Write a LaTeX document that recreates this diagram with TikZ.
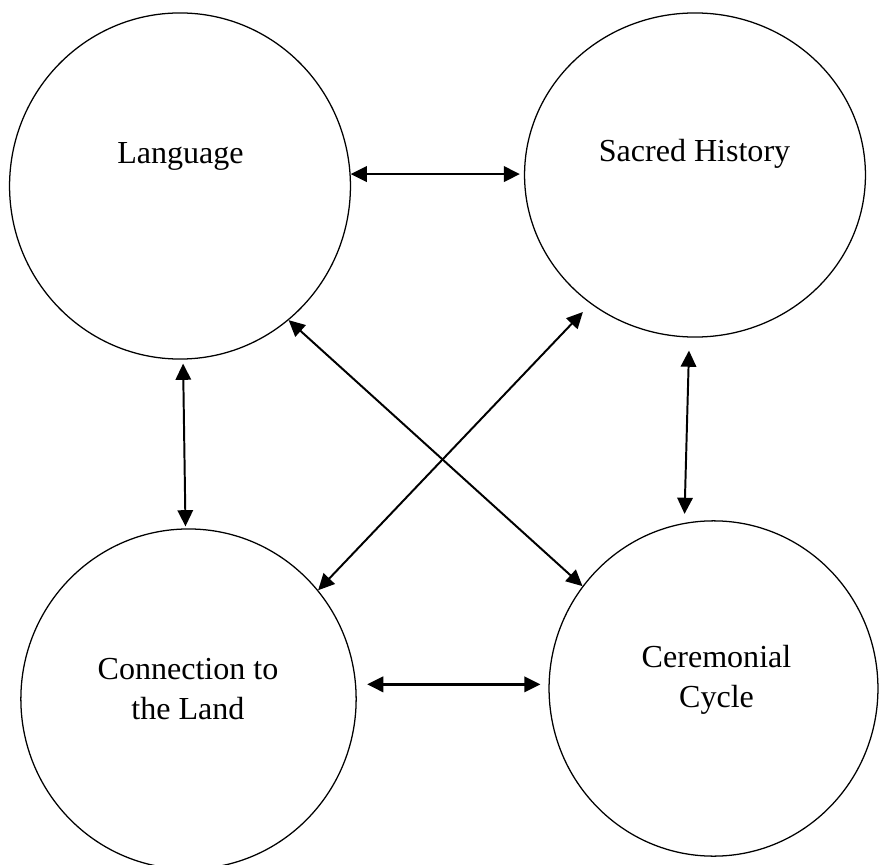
\documentclass[tikz,border=0pt]{standalone}
\usepackage{fontspec}
\setmainfont{Liberation Serif}
\usetikzlibrary{shapes.geometric,arrows.meta}

\tikzset{
	bubble/.style={draw, ellipse, line width=.9pt, inner sep=0pt},
	link/.style={{Triangle[length=11.5pt,width=11pt]}-{Triangle[length=11.5pt,width=11pt]}, line width=1.4pt},
	txt/.style={font=\fontsize{22.8}{28.4}\selectfont, align=center, inner sep=0pt}
}

\begin{document}
\begin{tikzpicture}[x=0.025cm, y=-0.025cm]
		\useasboundingbox (0,0) rectangle (880,865);
		% circles
		\node[bubble, minimum width=8.52cm, minimum height=8.65cm] (lang) at (180,186) {};
		\node[bubble, minimum width=8.52cm, minimum height=8.1cm] (sacred) at (695,175) {};
		\node[bubble, minimum width=8.38cm, minimum height=8.5cm] (conn) at (188.5,699) {};
		\node[bubble, minimum width=8.22cm, minimum height=8.38cm] (cere) at (713.5,688.5) {};
		% labels
		\node[txt] (langtxt) at (180.5,156) {Language};
		\node[txt] (sacredtxt) at (694.5,154) {Sacred History};
		\node[txt] (conntxt) at (188,689) {Connection to\\the Land};
		\node[txt] (ceretxt) at (716.5,680) {Ceremonial\\Cycle};
		% arrows
		\draw[link, line width=1.8pt, shorten >=0.1cm] (lang.4) -- (lang.4 -| sacred.west);
		\draw[link, line width=1.8pt, shorten <=0.275cm, shorten >=0.2cm] (conn.5) -- (conn.5 -| cere.west);
		\draw[link, shorten <=0.1cm, shorten >=0.05cm] (lang.-89) -- (conn.91);
		\draw[link, shorten <=0.325cm, shorten >=0.225cm] (sacred.-92) -- (cere.100);
		\draw[link] (lang.-51) -- (cere.142);
		\draw[link, shorten <=0.28cm] (sacred.231) -- (conn.40);
\end{tikzpicture}
\end{document}
